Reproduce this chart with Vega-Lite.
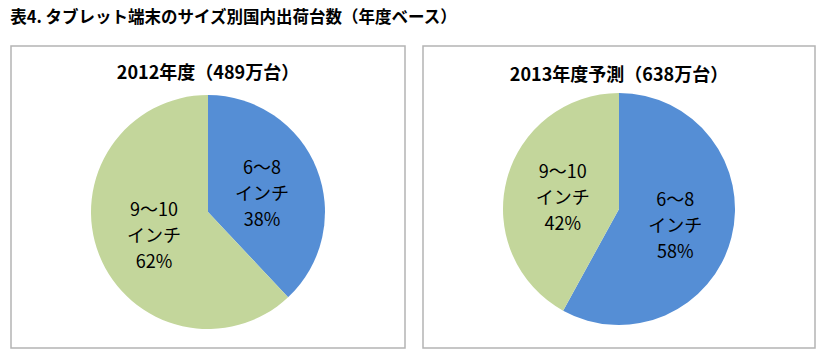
{
  "$schema": "https://vega.github.io/schema/vega-lite/v6.json",
  "background": "white",
  "padding": {"left": 10, "top": 9, "right": 13, "bottom": 10},
  "title": {
    "text": "表4. タブレット端末のサイズ別国内出荷台数（年度ベース）",
    "anchor": "start",
    "font": "Noto Sans CJK JP",
    "fontSize": 16.5,
    "fontWeight": "bold",
    "color": "#000000",
    "offset": 19
  },
  "datasets": {
    "y2012": [
      {"size": "6～8", "pct": 38, "label": "6～8\nインチ\n38%"},
      {"size": "9～10", "pct": 62, "label": "9～10\nインチ\n62%"}
    ],
    "y2013": [
      {"size": "6～8", "pct": 58, "label": "6～8\nインチ\n58%"},
      {"size": "9～10", "pct": 42, "label": "9～10\nインチ\n42%"}
    ]
  },
  "config": {
    "view": {"stroke": "#B4B4B4", "strokeWidth": 1.5},
    "title": {"font": "Noto Sans CJK JP", "fontSize": 18, "fontWeight": "bold", "color": "#000000"}
  },
  "spacing": 16,
  "hconcat": [
    {
      "width": 394,
      "height": 302,
      "view": {"stroke": "#B4B4B4", "strokeWidth": 1.5, "fill": "white"},
      "title": {"text": "2012年度（489万台）", "anchor": "middle", "offset": -55, "baseline": "bottom"},
      "data": {"name": "y2012"},
      "encoding": {
        "theta": {"field": "pct", "type": "quantitative", "stack": true},
        "order": {"field": "size", "type": "ordinal"}
      },
      "layer": [
        {
          "mark": {"type": "arc", "outerRadius": 117, "yOffset": 15},
          "encoding": {
            "color": {"field": "size", "type": "nominal", "legend": null,
              "scale": {"domain": ["6～8", "9～10"], "range": ["#558ED5", "#C3D69B"]}}
          }
        },
        {
          "mark": {"type": "text", "radius": 58, "yOffset": 15, "dy": -22, "lineBreak": "\n", "lineHeight": 26,
            "font": "Noto Sans CJK JP", "fontSize": 18, "color": "#000000", "align": "center", "baseline": "middle"},
          "encoding": {
            "detail": {"field": "size", "type": "nominal"},
            "text": {"field": "label", "type": "nominal"}
          }
        }
      ]
    },
    {
      "width": 392,
      "height": 302,
      "view": {"stroke": "#B4B4B4", "strokeWidth": 1.5, "fill": "white"},
      "title": {"text": "2013年度予測（638万台）", "anchor": "middle", "offset": -57, "baseline": "bottom"},
      "data": {"name": "y2013"},
      "encoding": {
        "theta": {"field": "pct", "type": "quantitative", "stack": true},
        "order": {"field": "size", "type": "ordinal"}
      },
      "layer": [
        {
          "mark": {"type": "arc", "outerRadius": 116, "yOffset": 12},
          "encoding": {
            "color": {"field": "size", "type": "nominal", "legend": null,
              "scale": {"domain": ["6～8", "9～10"], "range": ["#558ED5", "#C3D69B"]}}
          }
        },
        {
          "mark": {"type": "text", "radius": 58, "yOffset": 12, "dy": -22, "lineBreak": "\n", "lineHeight": 26,
            "font": "Noto Sans CJK JP", "fontSize": 18, "color": "#000000", "align": "center", "baseline": "middle"},
          "encoding": {
            "detail": {"field": "size", "type": "nominal"},
            "text": {"field": "label", "type": "nominal"}
          }
        }
      ]
    }
  ]
}
